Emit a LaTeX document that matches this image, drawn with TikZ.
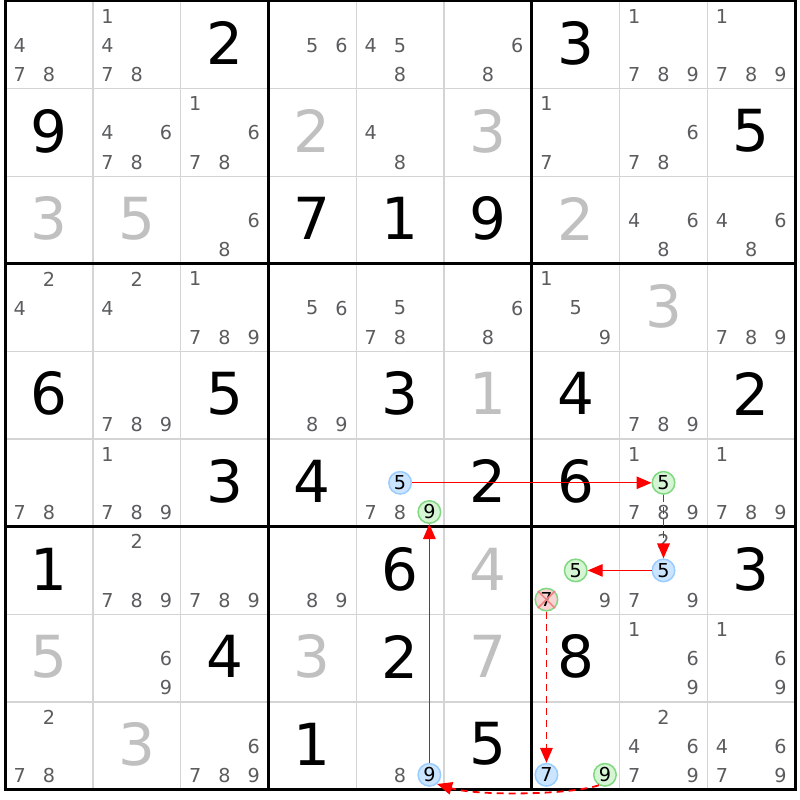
\documentclass[tikz,border=0pt]{standalone}
\usepackage{fontspec}
\setmainfont{DejaVu Sans}
\usetikzlibrary{arrows.meta}
\definecolor{candgray}{HTML}{5A5C5E}
\definecolor{solvgray}{HTML}{C0C0C0}
\definecolor{thingrid}{HTML}{D4D4D4}
\definecolor{hiblue}{HTML}{CCE5FF}
\definecolor{hiblueline}{HTML}{99CCFF}
\definecolor{higreen}{HTML}{D5F5D5}
\definecolor{higreenline}{HTML}{80D880}
\definecolor{hired}{HTML}{F8D4D4}
\definecolor{hiredx}{HTML}{F08080}
\definecolor{arrred}{HTML}{FF0000}
\tikzset{
  givenst/.style={inner sep=0pt, text=black, font=\fontsize{58}{58}\selectfont},
  solvst/.style={inner sep=0pt, text=solvgray, font=\fontsize{58}{58}\selectfont},
  candst/.style={inner sep=0pt, text=candgray, font=\fontsize{19.2}{19.2}\selectfont},
  hibase/.style={circle, inner sep=0pt, minimum size=22.5pt, line width=1.5pt, text=black, font=\fontsize{19.2}{19.2}\selectfont},
  hblue/.style={hibase, fill=hiblue, draw=hiblueline},
  hgreen/.style={hibase, fill=higreen, draw=higreenline},
  hcross/.style={hibase, fill=hired, draw=higreenline},
  thinline/.style={line width=1.4pt, draw=thingrid},
  thickline/.style={line width=3pt, draw=black},
  solidarr/.style={draw=arrred, line width=1.3pt, -{Triangle[length=15pt,width=12.5pt]}},
  dasharr/.style={draw=arrred, line width=1.8pt, dash pattern=on 7pt off 5pt, -{Triangle[length=15pt,width=12.5pt]}}
}
\newcommand\GivenD[3]{\node[givenst] (g#1#2) at ({5+87.8*(#2+0.5)},{1+87.6*(#1+0.5)-1.5}) {#3};}
\newcommand\SolvedD[3]{\node[solvst] (s#1#2) at ({5+87.8*(#2+0.5)},{1+87.6*(#1+0.5)-1.5}) {#3};}
\newcommand\CandD[3]{\foreach \cc in {#3}{\node[candst] (c#1#2\cc) at ({5+87.8*#2+14.633*(2*mod(\cc-1,3)+1)},{1+87.6*#1+14.6*(2*floor((\cc-1)/3)+1)+0.5}) {\cc};}}
\newcommand\HiCand[4]{\node[#4] (h#1#2#3) at ({5+87.8*#2+14.633*(2*mod(#3-1,3)+1)},{1+87.6*#1+14.6*(2*floor((#3-1)/3)+1)}) {#3};}
\begin{document}
\begin{tikzpicture}[x=1pt,y=-1pt]
\useasboundingbox (0,0) rectangle (800,800);
\fill[white] (0,0) rectangle (800,800);
% grid
\foreach \i in {1,2,4,5,7,8}{
  \draw[thinline] ({5+87.8*\i},1) -- ({5+87.8*\i},789.4);
  \draw[thinline] (5,{1+87.6*\i}) -- (795.2,{1+87.6*\i});
}
\foreach \i in {0,3,6,9}{
  \draw[thickline] ({5+87.8*\i},-0.5) -- ({5+87.8*\i},790.9);
  \draw[thickline] (3.5,{1+87.6*\i}) -- (796.7,{1+87.6*\i});
}
% givens
\GivenD{0}{2}{2}\GivenD{0}{6}{3}
\GivenD{1}{0}{9}\GivenD{1}{8}{5}
\GivenD{2}{3}{7}\GivenD{2}{4}{1}\GivenD{2}{5}{9}
\GivenD{4}{0}{6}\GivenD{4}{2}{5}\GivenD{4}{4}{3}\GivenD{4}{6}{4}\GivenD{4}{8}{2}
\GivenD{5}{2}{3}\GivenD{5}{3}{4}\GivenD{5}{5}{2}\GivenD{5}{6}{6}
\GivenD{6}{0}{1}\GivenD{6}{4}{6}\GivenD{6}{8}{3}
\GivenD{7}{2}{4}\GivenD{7}{4}{2}\GivenD{7}{6}{8}
\GivenD{8}{3}{1}\GivenD{8}{5}{5}
% solved
\SolvedD{1}{3}{2}\SolvedD{1}{5}{3}
\SolvedD{2}{0}{3}\SolvedD{2}{1}{5}\SolvedD{2}{6}{2}
\SolvedD{3}{7}{3}
\SolvedD{4}{5}{1}
\SolvedD{6}{5}{4}
\SolvedD{7}{0}{5}\SolvedD{7}{3}{3}\SolvedD{7}{5}{7}
\SolvedD{8}{1}{3}
% candidates
\CandD{0}{0}{4,7,8}\CandD{0}{1}{1,4,7,8}\CandD{0}{3}{5,6}\CandD{0}{4}{4,5,8}\CandD{0}{5}{6,8}\CandD{0}{7}{1,7,8,9}\CandD{0}{8}{1,7,8,9}
\CandD{1}{1}{4,6,7,8}\CandD{1}{2}{1,6,7,8}\CandD{1}{4}{4,8}\CandD{1}{6}{1,7}\CandD{1}{7}{6,7,8}
\CandD{2}{2}{6,8}\CandD{2}{7}{4,6,8}\CandD{2}{8}{4,6,8}
\CandD{3}{0}{2,4}\CandD{3}{1}{2,4}\CandD{3}{2}{1,7,8,9}\CandD{3}{3}{5,6}\CandD{3}{4}{5,7,8}\CandD{3}{5}{6,8}\CandD{3}{6}{1,5,9}\CandD{3}{8}{7,8,9}
\CandD{4}{1}{7,8,9}\CandD{4}{3}{8,9}\CandD{4}{7}{7,8,9}
\CandD{5}{0}{7,8}\CandD{5}{1}{1,7,8,9}\CandD{5}{4}{7,8}\CandD{5}{7}{1,7,8,9}\CandD{5}{8}{1,7,8,9}
\CandD{6}{1}{2,7,8,9}\CandD{6}{2}{7,8,9}\CandD{6}{3}{8,9}\CandD{6}{6}{9}\CandD{6}{7}{2,7,9}
\CandD{7}{1}{6,9}\CandD{7}{7}{1,6,9}\CandD{7}{8}{1,6,9}
\CandD{8}{0}{2,7,8}\CandD{8}{2}{6,7,8,9}\CandD{8}{4}{8}\CandD{8}{7}{2,4,6,7,9}\CandD{8}{8}{4,6,7,9}
% highlighted candidates
\HiCand{5}{4}{5}{hblue}
\HiCand{5}{4}{9}{hgreen}
\HiCand{5}{7}{5}{hgreen}
\HiCand{6}{7}{5}{hblue}
\HiCand{6}{6}{5}{hgreen}
\HiCand{6}{6}{7}{hcross}
\draw[hiredx, line width=1.5pt] (h667.north west) -- (h667.south east) (h667.north east) -- (h667.south west);
\HiCand{8}{6}{7}{hblue}
\HiCand{8}{6}{9}{hgreen}
\HiCand{8}{4}{9}{hblue}
% chain
\draw[solidarr] (h545) -- (h575);
\draw[dasharr] (h575) -- (h675);
\draw[solidarr] (h675) -- (h665);
\draw[dasharr] (h667) -- (h867);
\draw[dasharr] (h869.240) .. controls +(-30,10) and +(40,12) .. (h849.-50);
\draw[solidarr] (h849) -- (h549);
\end{tikzpicture}
\end{document}
